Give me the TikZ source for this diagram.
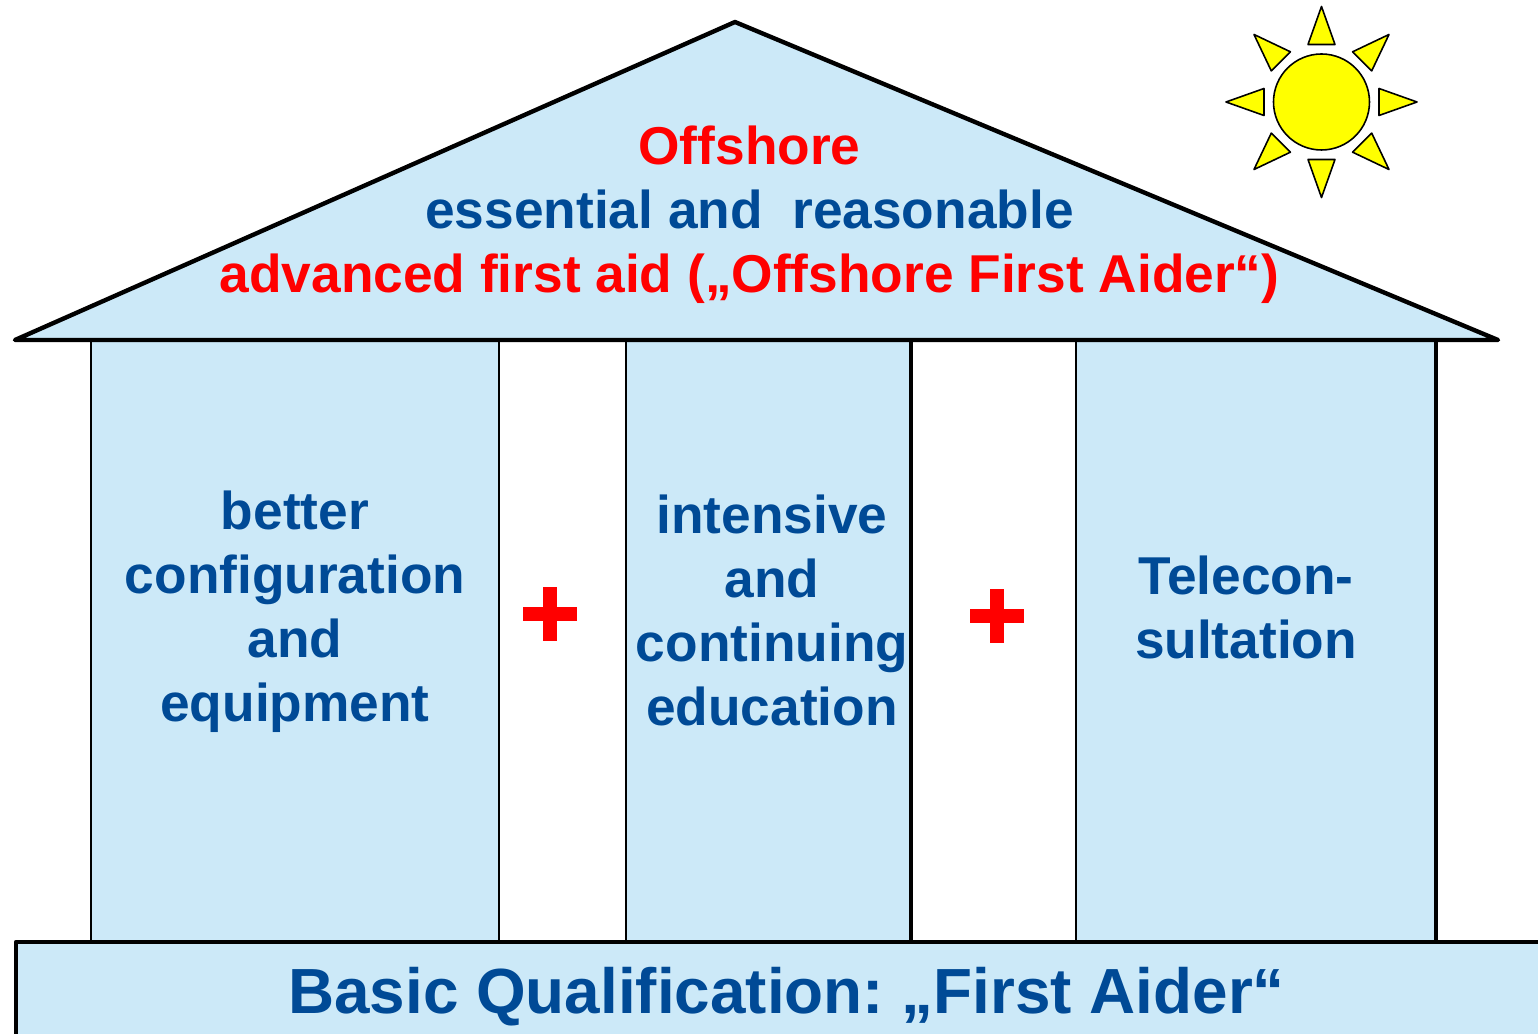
\documentclass[tikz,border=0pt]{standalone}
\usepackage{fontspec}
\setmainfont{Liberation Sans}
\definecolor{housefill}{HTML}{CCE9F8}
\definecolor{houseblue}{HTML}{004A96}
\definecolor{sunyellow}{HTML}{FFFF00}
\definecolor{plusred}{HTML}{FF0000}
\tikzset{
  part/.style={fill=housefill, draw=black, line width=0.55pt},
  heavy/.style={draw=black, line width=1.25pt, line cap=round, line join=round},
  label/.style={text=houseblue, font=\bfseries\fontsize{15.15}{18.2}\selectfont, align=center, inner sep=0pt},
  ray/.style={fill=sunyellow, draw=black, line width=0.45pt, line join=round},
  plussign/.pic={
    \fill[plusred] (-27,-7) rectangle (27,7);
    \fill[plusred] (-7,-27) rectangle (7,27);
  }
}
\begin{document}
\begin{tikzpicture}[x=0.01cm, y=-0.01cm]
    \useasboundingbox (0,0) rectangle (1538,1034);
    % pillars
    \draw [part] (91,340) rectangle (499,942);
    \draw [part] (626,340) rectangle (911,942);
    \draw [part] (1076,340) rectangle (1436,942);
    \draw [line width=1pt] (911,340) -- (911,942);
    \draw [line width=1.1pt] (1436,340) -- (1436,942);
    % base
    \fill [housefill] (16,942) rectangle (1538,1034);
    \draw [heavy] (16,1034) -- (16,942) -- (1538,942);
    % roof
    \draw [heavy, fill=housefill] (15,340) -- (735,22) -- (1498,340) -- cycle;
    % sun
    \foreach \a in {0,45,...,315} {
      \draw [ray, shift={(1321.5,102)}, rotate=\a] (57.5,-13.5) -- (95.5,0) -- (57.5,13.5) -- cycle;
    }
    \draw [ray] (1321.5,102) circle (48);
    % plus signs
    \pic at (550,614.5) {plussign};
    \pic at (997,616.5) {plussign};
    % text
    \node [label] (roof) at (749.5,215) {\textcolor{plusred}{Offshore}\\essential and\ \ reasonable\\\textcolor{plusred}{advanced first aid („Offshore First Aider“)}};
    \node [label] (equipment) at (295,612) {better\\configuration\\and\\equipment};
    \node [label] (education) at (772,610.5) {intensive\\and\\continuing\\education};
    \node [label] (telecon) at (1246,607.5) {Telecon-\\sultation};
    \node [label, font=\bfseries\fontsize{18.15}{22}\selectfont] (basic) at (786.5,997) {Basic Qualification:\kern-1.7pt{} „First Aider“};
  \end{tikzpicture}
\end{document}
